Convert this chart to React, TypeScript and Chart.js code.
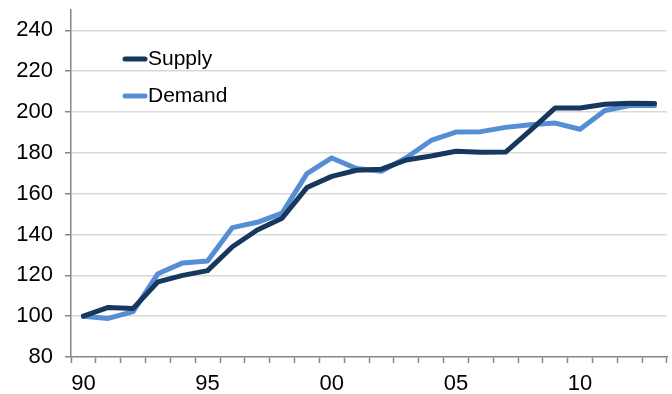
import { useEffect, useRef } from 'react';
import { Chart, registerables } from 'chart.js';

Chart.register(...registerables);

// Index values, 1990 = 100
const years = [
  '1990', '1991', '1992', '1993', '1994', '1995', '1996', '1997',
  '1998', '1999', '2000', '2001', '2002', '2003', '2004', '2005',
  '2006', '2007', '2008', '2009', '2010', '2011', '2012', '2013',
];

const supply = [
  100, 104.3, 103.8, 116.8, 120.0, 122.3, 134.0, 142.2,
  148.0, 163.0, 168.5, 171.5, 172.0, 176.5, 178.5, 180.8,
  180.3, 180.4, 191.0, 202.0, 202.0, 203.8, 204.3, 204.2,
];

const demand = [
  100, 98.9, 102.2, 120.8, 126.1, 127.0, 143.4, 146.0,
  150.5, 169.8, 177.5, 172.3, 171.0, 177.6, 186.1, 190.2,
  190.4, 192.5, 193.8, 194.6, 191.6, 200.8, 203.2, 203.2,
];

const yTicks = [80, 100, 120, 140, 160, 180, 200, 220, 240];
const labelledYears = ['1990', '1995', '2000', '2005', '2010'];

const FONT = '"Liberation Sans", Arial, sans-serif';

// Legend drawn inside the plot area, top-left
const insetLegend = {
  id: 'insetLegend',
  afterDraw(chart: any, _args: any, opts: any) {
    const ctx = chart.ctx as CanvasRenderingContext2D;
    ctx.save();
    chart.data.datasets.forEach((ds: any, i: number) => {
      const y = opts.top + i * opts.rowGap;
      ctx.strokeStyle = ds.borderColor;
      ctx.lineWidth = 5;
      ctx.lineCap = 'round';
      ctx.beginPath();
      ctx.moveTo(opts.left, y);
      ctx.lineTo(opts.left + opts.lineLen, y);
      ctx.stroke();
      ctx.fillStyle = '#000';
      ctx.font = `${opts.fontSize}px ${FONT}`;
      ctx.textBaseline = 'middle';
      ctx.textAlign = 'left';
      ctx.fillText(ds.label, opts.left + opts.lineLen + opts.gap, y);
    });
    ctx.restore();
  },
};

export default function App() {
  const canvasRef = useRef<HTMLCanvasElement>(null);

  useEffect(() => {
    const canvas = canvasRef.current;
    if (!canvas) return;
    const chart = new Chart(canvas, {
      type: 'line',
      data: {
        labels: years,
        datasets: [
          {
            label: 'Supply',
            data: supply,
            borderColor: '#17375E',
            borderWidth: 5,
            pointRadius: 0,
            tension: 0,
            borderJoinStyle: 'round',
            borderCapStyle: 'round',
          },
          {
            label: 'Demand',
            data: demand,
            borderColor: '#558ED5',
            borderWidth: 5,
            pointRadius: 0,
            tension: 0,
            borderJoinStyle: 'round',
            borderCapStyle: 'round',
          },
        ],
      },
      options: {
        responsive: false,
        animation: false,
        devicePixelRatio: 1,
        layout: { padding: { top: 10, right: 5, left: 0, bottom: 0 } },
        plugins: {
          legend: { display: false },
          tooltip: { enabled: false },
          insetLegend: { left: 125, top: 59, rowGap: 37, lineLen: 20, gap: 3, fontSize: 21 },
        } as any,
        scales: {
          x: {
            type: 'category',
            offset: true,
            border: { color: '#868686', width: 1.5 },
            grid: {
              offset: true,
              drawOnChartArea: false,
              drawTicks: true,
              tickLength: 6,
              tickColor: '#868686',
              tickWidth: 1.5,
            },
            ticks: {
              autoSkip: false,
              maxRotation: 0,
              minRotation: 0,
              padding: 8,
              color: '#000',
              font: { family: FONT, size: 22 },
              callback: (_v: any, i: number) =>
                labelledYears.includes(years[i]) ? years[i].slice(2) : '',
            },
            afterFit: (s: any) => {
              s.height = 37;
              s.paddingLeft = 0;
              s.paddingRight = 0;
            },
          },
          y: {
            min: 80,
            max: 250,
            border: { color: '#868686', width: 1.5 },
            grid: {
              color: (c: any) => (c.tick && c.tick.value === 80 ? 'rgba(0,0,0,0)' : '#D9D9D9'),
              lineWidth: 1.5,
              drawTicks: true,
              tickLength: 6,
              tickColor: '#868686',
              tickWidth: 1.5,
            },
            afterBuildTicks: (s: any) => {
              s.ticks = yTicks.map((v) => ({ value: v }));
            },
            ticks: {
              padding: 12,
              color: '#000',
              font: { family: FONT, size: 22 },
            },
            afterFit: (s: any) => {
              s.width = 71;
              s.paddingTop = 0;
              s.paddingBottom = 0;
            },
          },
        },
      },
      plugins: [insetLegend],
    });
    return () => chart.destroy();
  }, []);

  return (
    <div style={{ position: 'fixed', left: 0, top: 0, width: 672, height: 394, background: '#fff' }}>
      <canvas ref={canvasRef} width={672} height={394} />
    </div>
  );
}
